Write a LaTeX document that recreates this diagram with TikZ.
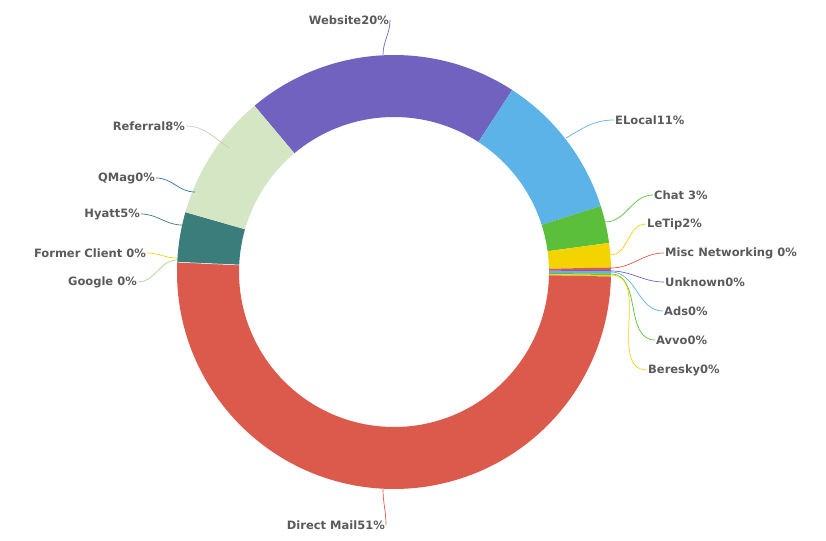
\documentclass[tikz,border=0pt]{standalone}
\usepackage{fontspec}
\setmainfont{DejaVu Sans}
\usetikzlibrary{positioning}
\definecolor{cWeb}{HTML}{7262C0}
\definecolor{cLoc}{HTML}{5CB3E8}
\definecolor{cChat}{HTML}{5BBF3C}
\definecolor{cTip}{HTML}{F3D400}
\definecolor{cMail}{HTML}{DC5A4C}
\definecolor{cHyatt}{HTML}{3B7D7B}
\definecolor{cRef}{HTML}{D5E6C4}
\definecolor{cQMag}{HTML}{2F6FA8}
\definecolor{cText}{HTML}{5A5A5A}
\begin{document}
\begin{tikzpicture}[x=1pt,y=1pt,
  lbl/.style={text=cText,font=\fontsize{11.5}{12}\selectfont\bfseries,inner sep=1pt},
  lead/.style={line width=0.7pt}]
\useasboundingbox (0,0) rectangle (826,-540);
%anillo
\begin{scope}[shift={(394,-272)}]
\foreach \a/\b/\c in {57/130/cWeb,17.7/57/cLoc,7.7/17.7/cChat,1.2/7.7/cTip,
  0.6/1.2/cMail,0.1/0.6/cWeb,-0.4/0.1/cLoc,-0.8/-0.4/cChat,-1.2/-0.8/cTip,
  -182.6/-1.2/cMail,164/177.4/cHyatt,130/164/cRef}
  \fill[\c] (\a:217) arc (\a:\b:217) -- (\b:155) arc (\b:\a:155) -- cycle;
\draw[white,line width=0.5pt] (177.4:155) -- (177.4:217);
\end{scope}
%etiquetas
\node[lbl,anchor=east] (web) at (390,-20) {Website20\%};
\node[lbl,anchor=west] (loc) at (614,-120) {ELocal11\%};
\node[lbl,anchor=west] (chat) at (653,-195) {Chat 3\%};
\node[lbl,anchor=west] (tip) at (646,-224) {LeTip2\%};
\node[lbl,anchor=west] (misc) at (664,-253) {Misc Networking 0\%};
\node[lbl,anchor=west] (unk) at (664,-282) {Unknown0\%};
\node[lbl,anchor=west] (ads) at (663,-311) {Ads0\%};
\node[lbl,anchor=west] (avvo) at (655,-340) {Avvo0\%};
\node[lbl,anchor=west] (ber) at (647,-370) {Beresky0\%};
\node[lbl,anchor=east] (mail) at (386,-525) {Direct Mail51\%};
\node[lbl,anchor=east] (hyatt) at (141,-214) {Hyatt5\%};
\node[lbl,anchor=east] (qmag) at (156,-178) {QMag0\%};
\node[lbl,anchor=east] (ref) at (186,-126) {Referral8\%};
\node[lbl,anchor=east] (fc) at (147,-253) {Former Client 0\%};
\node[lbl,anchor=east] (goo) at (138,-282) {Google 0\%};
%lineas guia
\draw[lead,cWeb] (383,-55) to[out=90,in=-90] (web.east);
\draw[lead,cLoc] (566,-138) to[out=30,in=180] (loc.west);
\draw[lead,cChat] (605,-222) to[out=0,in=180] (chat.west);
\draw[lead,cTip] (610,-255) to[out=0,in=180] (tip.west);
\draw[lead,cMail] (611,-268) to[out=0,in=180] (misc.west);
\draw[lead,cWeb] (611,-271) to[out=0,in=180] (unk.west);
\draw[lead,cLoc] (611,-272) to[out=0,in=180] (ads.west);
\draw[lead,cChat] (611,-274) to[out=0,in=180] (avvo.west);
\draw[lead,cTip] (611,-275) to[out=0,in=180] (ber.west);
\draw[lead,cMail] (383,-489) to[out=-90,in=90] (mail.east);
\draw[lead,cHyatt] (182,-225) to[out=180,in=0] (hyatt.east);
\draw[lead,cQMag] (195,-192) to[out=180,in=0] (qmag.east);
\draw[lead,cRef!80!gray] (230,-148) to[out=150,in=0] (ref.east);
\draw[lead,cTip] (177,-258) to[out=180,in=0] (fc.east);
\draw[lead,cChat!60!white] (177,-260) to[out=180,in=0] (goo.east);
\end{tikzpicture}
\end{document}
